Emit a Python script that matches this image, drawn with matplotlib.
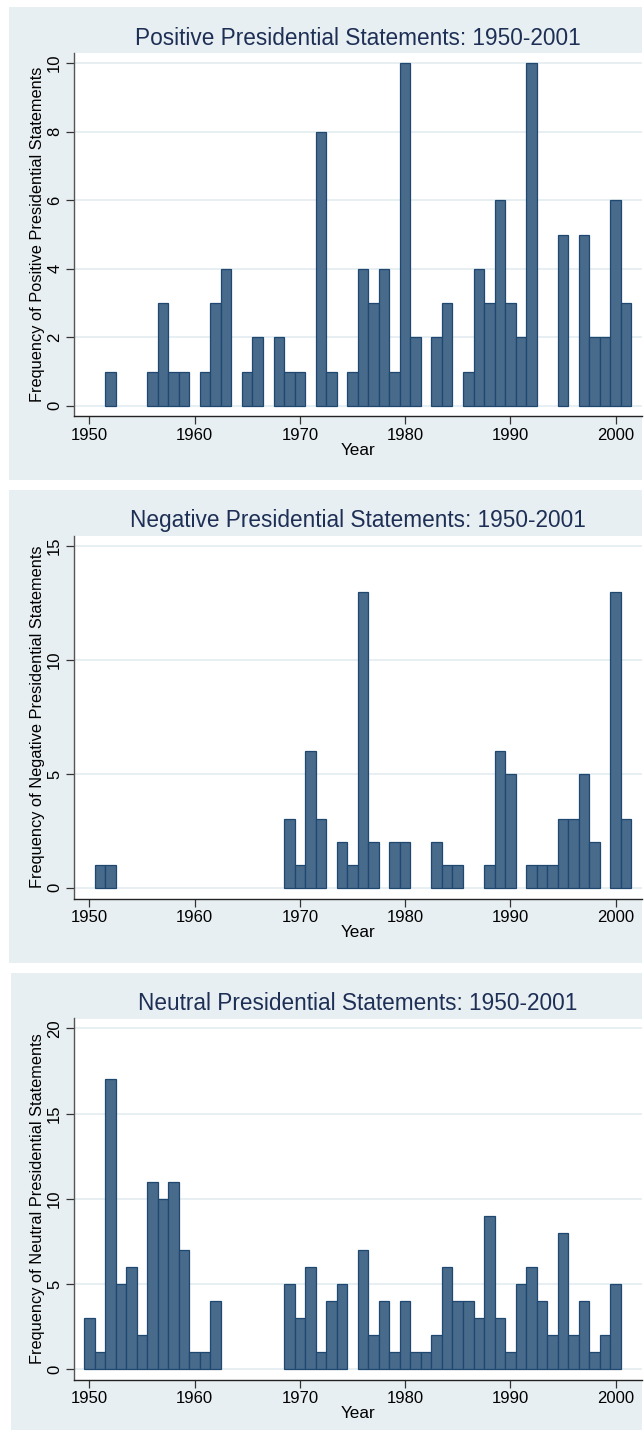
import matplotlib
matplotlib.use("Agg")
import matplotlib.pyplot as plt
from matplotlib.patches import Rectangle

plt.rcParams['font.family'] = ['Liberation Sans', 'DejaVu Sans']

# ---- data ----
pos_years = [1952, 1956, 1957, 1958, 1959, 1961, 1962, 1963, 1965, 1966, 1968, 1969,
             1970, 1972, 1973, 1975, 1976, 1977, 1978, 1979, 1980, 1981, 1983, 1984,
             1986, 1987, 1988, 1989, 1990, 1991, 1992, 1995, 1997, 1998, 1999, 2000, 2001]
pos_counts = [1, 1, 3, 1, 1, 1, 3, 4, 1, 2, 2, 1,
              1, 8, 1, 1, 4, 3, 4, 1, 10, 2, 2, 3,
              1, 4, 3, 6, 3, 2, 10, 5, 5, 2, 2, 6, 3]

neg_years = [1951, 1952, 1969, 1970, 1971, 1972, 1974, 1975, 1976, 1977, 1979, 1980,
             1983, 1984, 1985, 1988, 1989, 1990, 1992, 1993, 1994, 1995, 1996, 1997,
             1998, 2000, 2001]
neg_counts = [1, 1, 3, 1, 6, 3, 2, 1, 13, 2, 2, 2,
              2, 1, 1, 1, 6, 5, 1, 1, 1, 3, 3, 5,
              2, 13, 3]

neu_years = [1950, 1951, 1952, 1953, 1954, 1955, 1956, 1957, 1958, 1959, 1960, 1961, 1962,
             1969, 1970, 1971, 1972, 1973, 1974,
             1976, 1977, 1978, 1979, 1980, 1981, 1982, 1983, 1984, 1985, 1986, 1987, 1988,
             1989, 1990, 1991, 1992, 1993, 1994, 1995, 1996, 1997, 1998, 1999, 2000]
neu_counts = [3, 1, 17, 5, 6, 2, 11, 10, 11, 7, 1, 1, 4,
              5, 3, 6, 1, 4, 5,
              7, 2, 4, 1, 4, 1, 1, 2, 6, 4, 4, 3, 9,
              3, 1, 5, 6, 4, 2, 8, 2, 4, 1, 2, 5]

titles = ["Positive Presidential Statements: 1950-2001",
          "Negative Presidential Statements: 1950-2001",
          "Neutral Presidential Statements: 1950-2001"]
ylabels = ["Frequency of Positive Presidential Statements",
           "Frequency of Negative Presidential Statements",
           "Frequency of Neutral Presidential Statements"]
x_ticks = [1950, 1960, 1970, 1980, 1990, 2000]
y_ticks = [[0, 2, 4, 6, 8, 10], [0, 5, 10, 15], [0, 5, 10, 15, 20]]

# ---- style ----
W, H = 644, 1437
DPI = 100
BG = '#e8eff2'
GRID = '#e6eef1'
BAR_FILL = '#486a8b'
BAR_EDGE = '#1f4870'
TITLE_C = '#1e2f55'

fig = plt.figure(figsize=(W / DPI, H / DPI), dpi=DPI)
fig.patch.set_facecolor('white')


def frac_rect(x0, y0, x1, y1):
    """pixel box (top-left origin) -> figure fraction [left, bottom, width, height]"""
    return [x0 / W, 1 - y1 / H, (x1 - x0) / W, (y1 - y0) / H]


# panel boxes: (bg left, bg top, bg right, bg bottom, axes top, axes bottom, ylim)
panels = [
    (9, 7.5, 642, 480, 53.3, 415.7, (-0.29, 10.29)),
    (9, 490, 642, 963, 535.5, 898.5, (-0.47, 15.47)),
    (11, 972.7, 642, 1430, 1018.5, 1379.5, (-0.59, 20.57)),
]
series = [(pos_years, pos_counts), (neg_years, neg_counts), (neu_years, neu_counts)]

ax_left, ax_right = 74, 642
xlim = (1948.55, 2002.5)

for i, (bx0, by0, bx1, by1, ay0, ay1, ylim) in enumerate(panels):
    l, b, w, h = frac_rect(bx0, by0, bx1, by1)
    fig.patches.append(Rectangle((l, b), w, h, transform=fig.transFigure,
                                 facecolor=BG, edgecolor='none', zorder=-5))

    ax = fig.add_axes(frac_rect(ax_left, ay0, ax_right, ay1), zorder=2)
    ax.set_facecolor('white')
    yrs, cnts = series[i]
    ax.bar(yrs, cnts, width=1.0, color=BAR_FILL, edgecolor=BAR_EDGE,
           linewidth=0.9, zorder=3)

    ax.set_xlim(*xlim)
    ax.set_ylim(*ylim)
    ax.set_xticks(x_ticks)
    ax.set_yticks(y_ticks[i])
    ax.yaxis.grid(True, color=GRID, linewidth=1.3, zorder=0)
    ax.set_axisbelow(True)

    for s in ('top', 'right'):
        ax.spines[s].set_visible(False)
    ax.spines['left'].set_color('#555555')
    ax.spines['bottom'].set_color('#222222')
    ax.spines['left'].set_linewidth(1.0)
    ax.spines['bottom'].set_linewidth(1.0)

    ax.tick_params(axis='both', direction='out', length=5.5, width=0.9,
                   color='#333333', labelsize=12, labelcolor='black')
    ax.tick_params(axis='y', pad=3)
    ax.tick_params(axis='x', pad=3)
    for lab in ax.get_yticklabels():
        lab.set_rotation(90)
        lab.set_va('center')

    ax.set_xlabel("Year", fontsize=12.3, labelpad=0)
    ax.set_ylabel(ylabels[i], fontsize=11.8, labelpad=1.8)

    fig.text((ax_left + ax_right) / 2 / W, 1 - (by0 + 31) / H, titles[i],
             ha='center', va='center', fontsize=16.3, color=TITLE_C, zorder=3)

fig.savefig("out.png", dpi=DPI, facecolor='white')
